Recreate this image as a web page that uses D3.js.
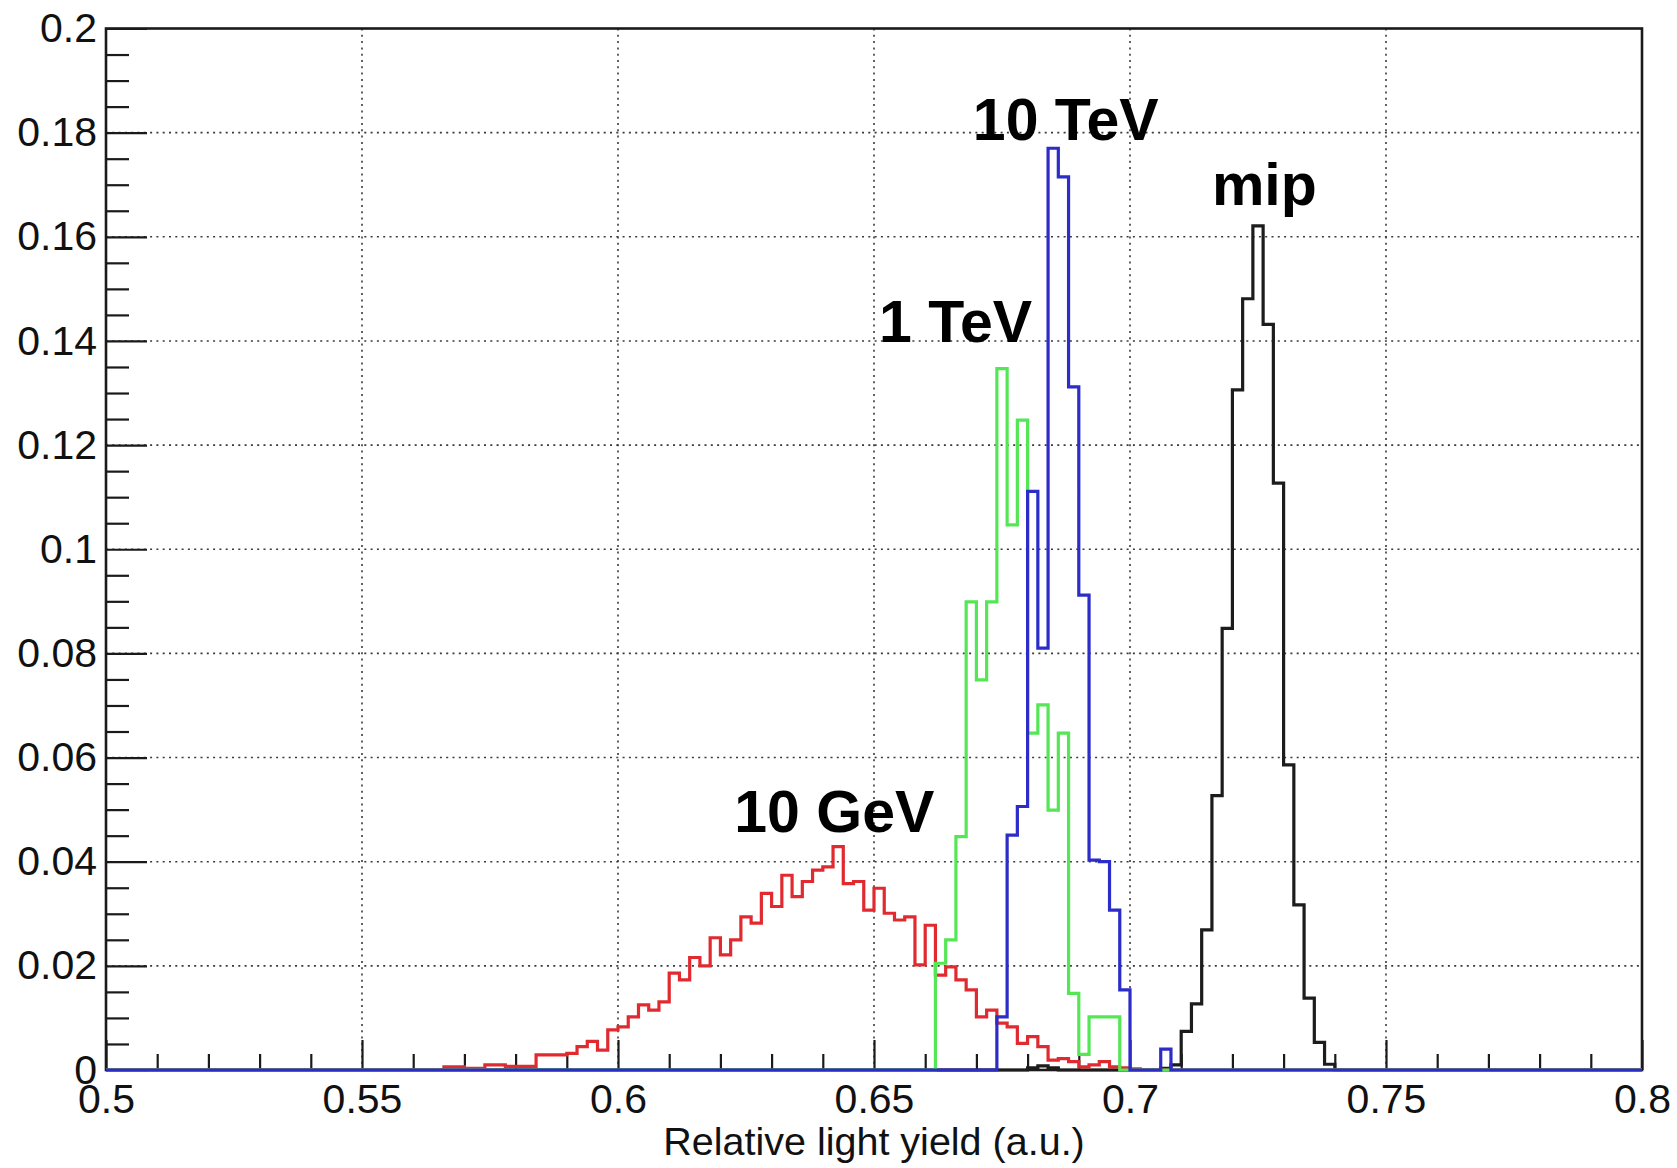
<!DOCTYPE html>
<html>
<head>
<meta charset="utf-8">
<script src="https://cdn.jsdelivr.net/npm/d3@7"></script>
<style>
  body { margin: 0; background: #fff; }
  svg { display: block; font-family: "Liberation Sans", Arial, Helvetica, sans-serif; }
</style>
</head>
<body>
<svg id="chart" width="1677" height="1168"></svg>
<script>
// bin width of all histograms
const binWidth = 0.002;

// 10 GeV (red), first bin low edge
const gev10Start = 0.566;
const gev10Values = [0.0006, 0.0006, 0.0003, 0.0003, 0.001, 0.001, 0.0007, 0.0007, 0.0007, 0.0029,
  0.0029, 0.0029, 0.0032, 0.0045, 0.0055, 0.0038, 0.0077, 0.0083, 0.0102, 0.0125,
  0.0115, 0.0131, 0.0186, 0.0173, 0.0216, 0.0200, 0.0254, 0.0221, 0.0250, 0.0294,
  0.0282, 0.0339, 0.0314, 0.0374, 0.0333, 0.0362, 0.0384, 0.0390, 0.0429, 0.0358,
  0.0362, 0.0307, 0.0349, 0.0301, 0.0288, 0.0294, 0.0202, 0.0278, 0.0182, 0.0198,
  0.0173, 0.0154, 0.0102, 0.0115, 0.0090, 0.0083, 0.0051, 0.0064, 0.0045, 0.0019,
  0.0022, 0.0016, 0.0006, 0.0010, 0.0016, 0.0006, 0.0004, 0.0002];

// 1 TeV (green)
const tev1Start = 0.662;
const tev1Values = [0.0205, 0.025, 0.0448, 0.0899, 0.0749, 0.0899, 0.1347, 0.1047, 0.1248, 0.0647,
  0.0701, 0.0499, 0.0647, 0.0147, 0.003, 0.0102, 0.0102, 0.0102];

// 10 TeV (blue)
const tev10Start = 0.674;
const tev10Values = [0.0102, 0.0451, 0.0506, 0.1111, 0.081, 0.177, 0.1715, 0.1312, 0.0912, 0.0403,
  0.0400, 0.0307, 0.0154, 0, 0, 0, 0.004];

// mip (black)
const mipStart = 0.680;
const mipValues = [0.0004, 0.0008, 0.0004, 0, 0, 0, 0, 0, 0, 0,
  0, 0, 0, 0.0003, 0.001, 0.0074, 0.0127, 0.0269, 0.0527, 0.0848,
  0.1306, 0.1481, 0.1621, 0.1432, 0.1127, 0.0586, 0.0317, 0.0138, 0.0053, 0.0011];

// axis ticks
const xTicks = [0.5, 0.55, 0.6, 0.65, 0.7, 0.75, 0.8];
const yTicks = [0, 0.02, 0.04, 0.06, 0.08, 0.1, 0.12, 0.14, 0.16, 0.18, 0.2];

// text labels on the peaks: [text, x, y(baseline)]
const peakLabels = [
  ['10 TeV', 0.6693, 0.1786],
  ['1 TeV', 0.651, 0.1398],
  ['mip', 0.716, 0.1661],
  ['10 GeV', 0.6227, 0.0457]
];

const margin = { left: 106, right: 35, top: 28.5, bottom: 98 };
const width = 1677, height = 1168;

const svg = d3.select('#chart');
svg.append('rect').attr('width', width).attr('height', height).attr('fill', '#fff');

const x = d3.scaleLinear().domain([0.5, 0.8]).range([margin.left, width - margin.right]);
const y = d3.scaleLinear().domain([0, 0.2]).range([height - margin.bottom, margin.top]);

const x0 = x.range()[0], x1 = x.range()[1];
const y0 = y.range()[0], y1 = y.range()[1];

// dotted grid
const grid = svg.append('g')
  .attr('stroke', '#3a3a3a')
  .attr('stroke-width', 1.6)
  .attr('stroke-dasharray', '2,4.3');

grid.selectAll('line.gx')
  .data(xTicks.slice(1, -1))
  .enter().append('line')
  .attr('x1', d => x(d)).attr('x2', d => x(d))
  .attr('y1', y0).attr('y2', y1);

grid.selectAll('line.gy')
  .data(yTicks.slice(1, -1))
  .enter().append('line')
  .attr('x1', x0).attr('x2', x1)
  .attr('y1', d => y(d)).attr('y2', d => y(d));

// minor ticks
const xMinor = d3.range(0.5, 0.8001, 0.01).filter(v => !xTicks.some(t => Math.abs(t - v) < 1e-6));
const yMinor = d3.range(0, 0.2001, 0.005).filter(v => !yTicks.some(t => Math.abs(t - v) < 1e-6));

const xAxisMinor = svg.append('g')
  .attr('transform', `translate(0,${y0})`)
  .call(d3.axisBottom(x).tickValues(xMinor).tickSize(-16).tickFormat(''));

const yAxisMinor = svg.append('g')
  .attr('transform', `translate(${x0},0)`)
  .call(d3.axisLeft(y).tickValues(yMinor).tickSize(-23).tickFormat(''));

// major ticks + labels
const xAxis = svg.append('g')
  .attr('transform', `translate(0,${y0})`)
  .call(d3.axisBottom(x).tickValues(xTicks).tickSize(-30).tickPadding(14).tickFormat(d3.format('')));

const yAxis = svg.append('g')
  .attr('transform', `translate(${x0},0)`)
  .call(d3.axisLeft(y).tickValues(yTicks).tickSize(-41).tickPadding(9).tickFormat(d3.format('')));

[xAxisMinor, yAxisMinor, xAxis, yAxis].forEach(a => {
  a.select('.domain').remove();
  a.selectAll('.tick line').attr('stroke', '#1a1a1a').attr('stroke-width', 2.2);
  a.selectAll('.tick text')
    .attr('fill', '#111')
    .attr('font-size', 41)
    .attr('font-family', '"Liberation Sans", Arial, Helvetica, sans-serif');
});

// frame
svg.append('rect')
  .attr('x', x0).attr('y', y1)
  .attr('width', x1 - x0).attr('height', y0 - y1)
  .attr('fill', 'none')
  .attr('stroke', '#1a1a1a')
  .attr('stroke-width', 2.6);

// x title
svg.append('text')
  .attr('x', (x0 + x1) / 2)
  .attr('y', 1155)
  .attr('text-anchor', 'middle')
  .attr('font-size', 39.5)
  .attr('fill', '#111')
  .text('Relative light yield (a.u.)');

// histograms
const stepLine = d3.line()
  .x(d => x(d[0]))
  .y(d => y(d[1]))
  .curve(d3.curveStepAfter);

function histPoints(start, values) {
  const pts = [[0.5, 0]];
  values.forEach((v, i) => pts.push([start + i * binWidth, v]));
  pts.push([start + values.length * binWidth, 0]);
  pts.push([0.8, 0]);
  return pts;
}

const hists = [
  { start: mipStart, values: mipValues, color: '#1c1c1c' },
  { start: gev10Start, values: gev10Values, color: '#e02a30' },
  { start: tev1Start, values: tev1Values, color: '#55e655' },
  { start: tev10Start, values: tev10Values, color: '#2c2cc8' }
];

svg.append('g')
  .selectAll('path')
  .data(hists)
  .enter().append('path')
  .attr('d', d => stepLine(histPoints(d.start, d.values)))
  .attr('fill', 'none')
  .attr('stroke', d => d.color)
  .attr('stroke-width', 3.2)
  .attr('stroke-linejoin', 'miter');

// peak labels
svg.append('g')
  .selectAll('text')
  .data(peakLabels)
  .enter().append('text')
  .attr('x', d => x(d[1]))
  .attr('y', d => y(d[2]))
  .attr('font-size', 59)
  .attr('font-weight', 'bold')
  .attr('fill', '#000')
  .text(d => d[0]);
</script>
</body>
</html>
